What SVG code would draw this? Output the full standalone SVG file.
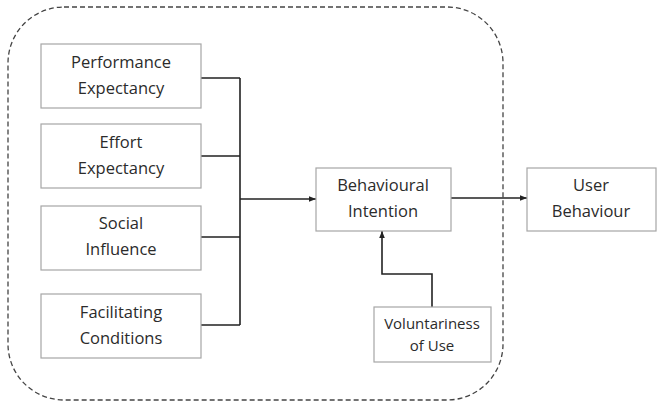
<svg xmlns="http://www.w3.org/2000/svg" width="657" height="404" viewBox="0 0 657 404">
  <style>
    .box { fill: #ffffff; stroke: #a6a6a6; stroke-width: 1.2; }
    .lbl { font-family: "Open Sans", "Liberation Sans", sans-serif; font-size: 16.5px; fill: #2b2b2b; text-anchor: middle; }
    .sm { font-size: 15px; }
    .wire { fill: none; stroke: #222222; stroke-width: 1.6; }
    .frame { fill: none; stroke: #444444; stroke-width: 1.3; stroke-dasharray: 5 3; }
  </style>
  <defs>
    <marker id="arrow" viewBox="0 0 10 10" refX="10" refY="5" markerWidth="7" markerHeight="7" orient="auto" markerUnits="userSpaceOnUse">
      <path d="M0,1 L10,5 L0,9 z" fill="#222222"/>
    </marker>
  </defs>
  <rect width="657" height="404" fill="#ffffff"/>

  <!-- dashed boundary around the intention model -->
  <rect class="frame" x="8" y="7" width="495" height="393" rx="56" ry="56"/>

  <g id="connectors">
    <path class="wire" d="M201,78 H240 M201,156 H240 M201,237 H240 M201,325 H240 M240,78 V325"/>
    <path class="wire" d="M240,199 H316" marker-end="url(#arrow)"/>
    <path class="wire" d="M451,198 H527" marker-end="url(#arrow)"/>
    <path class="wire" d="M432,307 V274 H382 V231" marker-end="url(#arrow)"/>
  </g>

  <g id="performance-expectancy">
    <rect class="box" x="41" y="44" width="160" height="64"/>
    <text class="lbl" x="121" y="68">Performance</text>
    <text class="lbl" x="121" y="94">Expectancy</text>
  </g>
  <g id="effort-expectancy">
    <rect class="box" x="41" y="124" width="160" height="64"/>
    <text class="lbl" x="121" y="148">Effort</text>
    <text class="lbl" x="121" y="174">Expectancy</text>
  </g>
  <g id="social-influence">
    <rect class="box" x="41" y="206" width="160" height="64"/>
    <text class="lbl" x="121" y="229">Social</text>
    <text class="lbl" x="121" y="255">Influence</text>
  </g>
  <g id="facilitating-conditions">
    <rect class="box" x="41" y="294" width="160" height="64"/>
    <text class="lbl" x="121" y="318">Facilitating</text>
    <text class="lbl" x="121" y="344">Conditions</text>
  </g>
  <g id="behavioural-intention">
    <rect class="box" x="316" y="168" width="135" height="63"/>
    <text class="lbl" x="383" y="191">Behavioural</text>
    <text class="lbl" x="383" y="217">Intention</text>
  </g>
  <g id="user-behaviour">
    <rect class="box" x="527" y="168" width="129" height="63"/>
    <text class="lbl" x="591" y="191">User</text>
    <text class="lbl" x="591" y="217">Behaviour</text>
  </g>
  <g id="voluntariness-of-use">
    <rect class="box" x="374" y="307" width="117" height="55"/>
    <text class="lbl sm" x="432" y="329">Voluntariness</text>
    <text class="lbl sm" x="432" y="351">of Use</text>
  </g>
</svg>
